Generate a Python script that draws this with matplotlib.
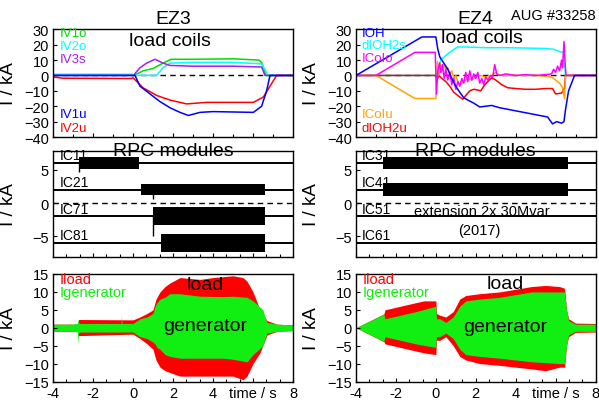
import matplotlib
matplotlib.use("Agg")
import matplotlib.pyplot as plt
from matplotlib.ticker import MultipleLocator

plt.rcParams['font.family'] = ['Liberation Sans', 'DejaVu Sans']

# ---- EZ3 load coils (t / s, I / kA) ----
iv1o_t = [-4, -0.05, 0.1, 0.5, 1.0, 1.5, 1.9, 3.0, 5.0, 6.3, 6.45, 6.65, 8]
iv1o_v = [0.3, 0.3, 0.3, 3, 4.5, 8, 10.5, 10.5, 10.8, 10, 8, 0, 0]
iv2o_t = [-4, -0.05, 0.0, 1.18, 1.5, 1.85, 3.0, 5.0, 6.43, 6.77, 8]
iv2o_v = [0.8, 0.8, 0.1, 0.1, 5, 8, 8.5, 8.5, 7.5, 0, 0]
iv3s_t = [-4, 0.02, 0.35, 0.68, 1.1, 1.5, 1.85, 3.0, 5.0, 6.43, 6.6, 8]
iv3s_v = [0, 0, 5, 8, 10.5, 8, 6.5, 6, 6, 5.5, 0, 0]
iv1u_t = [-4, 0.1, 0.35, 0.85, 1.35, 1.85, 2.35, 2.77, 3.35, 4.0, 6.02, 6.43, 6.68, 6.85, 8]
iv1u_v = [0, 0, -7, -12, -17, -21, -24, -26, -24, -23.5, -24, -20, -10, 0, 0]
iv2u_t = [-4, -3.5, -0.1, 0.0, 0.5, 1.18, 1.85, 2.68, 3.68, 6.02, 6.52, 6.85, 7.18, 8]
iv2u_v = [-1, -1.8, -2.0, -1.5, -8, -13, -16, -18.5, -17.5, -17.5, -14, -7, 0, 0]

# ---- EZ4 load coils ----
ioh_t = [-4, -0.7, 0.0, 0.1, 0.2, 0.4, 0.6, 0.8, 1.0, 1.2, 1.4, 1.6, 1.9, 2.2, 2.5, 2.8,
         3.2, 4.0, 5.0, 5.6, 5.85, 6.05, 6.3, 6.42, 6.5, 6.65, 6.95, 8]
ioh_v = [0, 25, 25, 17, 12, 8, 4, -2, -7, -11, -14.5, -16, -18, -20.5, -20, -19.5,
         -21, -23, -25.5, -27, -31.5, -30, -31, -30, -22, -10, 0, 0]
dioh2s_t = [-4, 0.0, 0.1, 0.25, 0.5, 0.8, 1.1, 1.5, 2.5, 3.5, 4.5, 5.5, 5.9, 6.2, 6.4, 6.5, 8]
dioh2s_v = [0, 0, 3, 10, 13, 16, 18.5, 18.5, 18, 18, 17.8, 17.5, 17, 15.5, 15, 0, 0]
icoio_t = [-4, -3, -1.05, -0.03, 0.03, 0.1, 0.18, 0.25, 0.33, 0.42, 0.5, 0.6, 0.7, 0.8, 0.9,
           1.0, 1.1, 1.2, 1.3, 1.4, 1.5, 1.6, 1.7, 1.8, 1.9, 2.0, 2.1, 2.2, 2.3, 2.4, 2.5,
           2.6, 2.75, 2.85, 2.95, 3.05, 3.2, 3.5, 4.0, 4.5, 5.0, 5.5, 5.8, 5.9, 6.0, 6.1,
           6.2, 6.3, 6.35, 6.42, 6.47, 6.52, 8]
icoio_v = [0, 0, 15, 15, -12, 3, 8, 2, 7, -2, 4, -3, 2, -6, -2,
           -9, -4, -7, -2, -5, 2, -4, 3, -3, 1, -2, 2, -5, -2, -6, -1,
           -3, 0, -1, 7, 1, 0, 1, 0, 0.5, 0, 0.5, 1, 4, 2, 6,
           3, 10, 5, 22, 10, 0, 0]
icoiu_t = [-4, -3, -1.05, 0.0, 0.08, 0.15, 0.22, 0.3, 0.4, 0.5, 0.6, 0.7, 0.8, 0.9, 1.0,
           1.1, 1.2, 1.4, 1.6, 1.8, 2.0, 2.2, 2.5, 2.8, 3.0, 3.2, 4.0, 5.0, 5.8, 6.0,
           6.2, 6.35, 6.45, 6.5, 8]
icoiu_v = [0, 0, -15, -15, 9, 0, 8, 3, 7, 4, 5, 1, 3, -2, 0,
           -4, -6, -4, -2, -3, -1, 0, -1, 0, 2, 0, 0, 0, -1, -3,
           -5, -8, -15, 0, 0]
dioh2u_t = [-4, 0.0, 0.05, 0.15, 0.3, 0.5, 0.7, 0.9, 1.1, 1.35, 1.5, 1.7, 1.9, 2.1, 2.25,
            2.4, 2.6, 2.8, 3.0, 3.3, 3.6, 4.0, 4.5, 5.0, 5.5, 5.85, 6.0, 6.3, 6.45, 6.5, 8]
dioh2u_v = [0, 0, -3, 0, -2, -4, -7, -11, -13, -15.5, -13, -10, -9, -9.5, -10,
            -7, -4, -1.5, -3, -6, -8, -8.5, -9, -9, -8.5, -8.5, -12, -11.5, -8, 0, 0]

# ---- RPC modules: name, baseline, start, end, half amplitude ----
rpc3_names = ['IC11', 'IC21', 'IC71', 'IC81']
rpc3_base = [6, 2, -2, -6]
rpc3_start = [-2.68, 0.38, 1.02, 1.38]
rpc3_end = [0.32, 6.6, 6.6, 6.6]
rpc3_amp = [0.9, 0.85, 1.35, 1.4]
rpc3_spike_t = [-2.68, 1.0, 1.0]
rpc3_spike_lo = [4.6, 0.6, -5.0]
rpc3_spike_hi = [6.0, 2.0, -2.0]

rpc4_names = ['IC31', 'IC41', 'IC51', 'IC61']
rpc4_base = [6, 2, -2, -6]
rpc4_start = [-2.63, -2.63, None, None]
rpc4_end = [6.62, 6.62, None, None]
rpc4_amp = [0.95, 1.0, 0, 0]

# ---- generator / load current envelopes ----
gen3_t = [-4, -3.0, -2.78, -2.75, -2.72, -2.65, -0.6, -0.58, -0.55, 0.0, 0.35, 0.7, 1.0, 1.1,
          1.2, 1.35, 1.6, 1.85, 2.35, 3.35, 4.5, 5.0, 5.7, 6.0, 6.3, 6.5, 6.6, 6.7, 7.2, 8.0]
gen3_hi = [1.0, 1.0, 1.2, 2.5, 1.5, 1.2, 1.2, 3.3, 1.2, 1.2, 2.5, 3.0, 4.0, 6.0,
           7.0, 8.0, 8.5, 9.5, 9.5, 8.8, 8.7, 8.8, 8.5, 7.5, 6.0, 5.0, 3.0, 1.5, 1.0, 0.8]
gen3_lo = [-1.0, -1.0, -1.2, -4.5, -1.5, -1.2, -1.2, -1.2, -1.2, -1.2, -2.5, -3.0, -4.0, -4.5,
           -5.5, -6.0, -7.5, -8.0, -8.5, -8.5, -8.5, -8.8, -9.5, -7.5, -6.0, -5.0, -3.0, -1.5, -1.0, -0.8]
load3_t = [-4, -2.75, -2.72, -0.1, 0.0, 0.35, 0.7, 1.0, 1.15, 1.35, 1.6, 1.85, 2.35, 3.35,
           4.0, 5.0, 5.5, 5.7, 6.0, 6.35, 6.7, 7.2, 8.0]
load3_hi = [1.0, 1.0, 2.3, 2.2, 2.2, 3.0, 4.0, 5.0, 8.0, 10.0, 11.5, 12.5, 14.0, 13.5,
            14.0, 14.5, 14.0, 13.0, 10.0, 5.0, 2.0, 1.0, 0.8]
load3_lo = [-1.0, -1.0, -2.2, -1.8, -1.8, -3.0, -4.5, -6.0, -9.0, -11.0, -12.0, -12.5, -13.5, -13.5,
            -13.5, -13.5, -14.5, -13.5, -10.0, -7.0, -2.0, -1.0, -0.8]

gen4_t = [-4, -2.6, -2.55, -1.0, 0.0, 0.03, 0.2, 0.5, 0.87, 1.2, 1.5, 2.2, 3.2, 4.8, 6.2,
          6.45, 6.55, 6.65, 7.0, 8.0]
gen4_hi = [0, 3.8, 2.5, 4.5, 6.0, 2.5, 2.5, 1.5, 3.0, 6.0, 7.5, 8.0, 8.5, 10.0, 10.0,
           10.0, 5.0, 2.0, 1.0, 1.0]
gen4_lo = [0, -3.8, -2.5, -4.5, -5.5, -2.5, -2.5, -1.5, -3.0, -6.0, -7.5, -8.0, -8.5, -9.5, -10.0,
           -10.0, -5.0, -2.0, -1.0, -1.0]
load4_t = [-4, -2.6, -2.55, -1.0, -0.6, 0.0, 0.03, 0.2, 0.5, 0.87, 1.2, 1.5, 2.2, 3.2, 4.8,
           5.5, 6.2, 6.45, 6.55, 6.65, 7.0, 8.0]
load4_hi = [0, 3.9, 5.0, 7.0, 7.5, 7.5, 4.0, 3.5, 3.0, 4.5, 8.0, 9.0, 9.5, 10.0, 11.5,
            11.8, 11.5, 11.0, 5.0, 2.5, 1.3, 1.2]
load4_lo = [0, -3.9, -4.5, -6.5, -7.0, -7.5, -3.5, -3.5, -2.5, -5.0, -8.0, -9.0, -10.0, -10.5, -11.5,
            -12.0, -11.0, -11.0, -5.0, -2.5, -1.3, -1.2]

GREEN = '#00dd00'
LIME = '#11ee11'
CYAN = '#00ffff'
PURPLE = '#a020f0'
ORANGE = '#ffa500'
MAGENTA = '#ff00ff'
W, H = 599, 410

fig = plt.figure(figsize=(W / 100, H / 100), dpi=100)


def make_ax(x0, x1, y0, y1):
    return fig.add_axes([x0 / W, 1 - y1 / H, (x1 - x0) / W, (y1 - y0) / H])


def style(ax, ylim, yticks, minor_x, show_x):
    ax.set_xlim(-4, 8)
    ax.set_ylim(*ylim)
    ax.set_yticks(yticks)
    ax.set_xticks([-4, -2, 0, 2, 4, 6, 8])
    ax.xaxis.set_minor_locator(MultipleLocator(minor_x))
    ax.tick_params(direction='in', length=3, width=0.8, labelsize=10.5, pad=3)
    ax.tick_params(which='minor', direction='in', length=2, width=0.8)
    if show_x:
        ax.set_xticklabels(['-4', '-2', '0', '2', '4', 'time / s', '8'])
    else:
        ax.set_xticklabels([])
    for s in ax.spines.values():
        s.set_linewidth(1.0)


cols = [(53, 293), (356, 595.5)]
ylab_x = [17.5, 320]

axes = {}
for c, (x0, x1) in enumerate(cols):
    axes[(0, c)] = make_ax(x0, x1, 29.5, 138)
    axes[(1, c)] = make_ax(x0, x1, 152, 258)
    axes[(2, c)] = make_ax(x0, x1, 275, 382.5)
    style(axes[(0, c)], (-40, 30.5), range(-40, 31, 10), 1, False)
    style(axes[(1, c)], (-8.1, 7.8), [-5, 0, 5], 2 / 3, False)
    style(axes[(2, c)], (-15, 15), range(-15, 16, 5), 2 / 3, True)
    for r in range(3):
        ax = axes[(r, c)]
        ax.set_ylabel('I / kA', fontsize=13.5)
        ax.yaxis.set_label_coords(-(x0 - ylab_x[c]) / (x1 - x0), 0.5)

# ---- top row ----
ax = axes[(0, 0)]
ax.axhline(0, color='black', lw=1, dashes=(4, 3))
ax.plot(iv1o_t, iv1o_v, color=GREEN, lw=1.1)
ax.plot(iv2o_t, iv2o_v, color=CYAN, lw=1.1)
ax.plot(iv3s_t, iv3s_v, color=PURPLE, lw=1.1)
ax.plot(iv2u_t, iv2u_v, color='red', lw=1.1)
ax.plot(iv1u_t, iv1u_v, color='blue', lw=1.1)
ax.set_title('EZ3', fontsize=14, pad=4)
for txt, y, col in [('IV1o', 0.958, GREEN), ('IV2o', 0.84, CYAN), ('IV3s', 0.722, PURPLE),
                    ('IV1u', 0.212, 'blue'), ('IV2u', 0.085, 'red')]:
    ax.text(0.029, y, txt, color=col, fontsize=9.5, va='center', transform=ax.transAxes)
ax.text(0.4875, 0.888, 'load coils', fontsize=14, ha='center', va='center', transform=ax.transAxes)

ax = axes[(0, 1)]
ax.axhline(0, color='black', lw=1, dashes=(4, 3))
ax.plot(dioh2s_t, dioh2s_v, color=CYAN, lw=1.1)
ax.plot(dioh2u_t, dioh2u_v, color='red', lw=1.1)
ax.plot(icoiu_t, icoiu_v, color=ORANGE, lw=1.1)
ax.plot(icoio_t, icoio_v, color=MAGENTA, lw=1.1)
ax.plot(ioh_t, ioh_v, color='blue', lw=1.1)
ax.set_title('EZ4', fontsize=14, pad=4)
fig.text(553 / W, 1 - 16 / H, 'AUG #33258', fontsize=10.5, ha='center', va='center')
for txt, y, col in [('IOH', 0.963, 'blue'), ('dIOH2s', 0.845, CYAN), ('ICoIo', 0.727, MAGENTA),
                    ('ICoIu', 0.212, ORANGE), ('dIOH2u', 0.085, 'red')]:
    ax.text(0.025, y, txt, color=col, fontsize=9.5, va='center', transform=ax.transAxes)
ax.text(0.526, 0.919, 'load coils', fontsize=14, ha='center', va='center', transform=ax.transAxes)

# ---- middle row ----
ax = axes[(1, 0)]
ax.axhline(0, color='black', lw=1, dashes=(4, 3))
for name, b, t0, t1, a in zip(rpc3_names, rpc3_base, rpc3_start, rpc3_end, rpc3_amp):
    ax.axhline(b, color='black', lw=1.4, zorder=2)
    ax.fill_between([t0, t1], [b - a, b - a], [b + a, b + a], color='black', lw=0, zorder=3)
    ax.text(-3.65, b + 0.1, name, fontsize=10, va='bottom', zorder=1)
ax.vlines(rpc3_spike_t, rpc3_spike_lo, rpc3_spike_hi, color='black', lw=1, zorder=3)
ax.text(0.5, 1.0, 'RPC modules', fontsize=14, ha='center', va='center', transform=ax.transAxes)

ax = axes[(1, 1)]
ax.axhline(0, color='black', lw=1, dashes=(4, 3))
for name, b, t0, t1, a in zip(rpc4_names, rpc4_base, rpc4_start, rpc4_end, rpc4_amp):
    ax.axhline(b, color='black', lw=1.4, zorder=2)
    if t0 is not None:
        ax.fill_between([t0, t1], [b - a, b - a], [b + a, b + a], color='black', lw=0, zorder=3)
    ax.text(-3.7, b + 0.1, name, fontsize=10, va='bottom', zorder=1)
ax.text(0.5, 1.0, 'RPC modules', fontsize=14, ha='center', va='center', transform=ax.transAxes)
ax.text(2.28, -1.25, 'extension 2x 30Mvar', fontsize=10.5, ha='center', va='center')
ax.text(2.2, -4.0, '(2017)', fontsize=10.5, ha='center', va='center')

# ---- bottom row ----
for c, (lt, lh, ll, gt, gh, gl) in enumerate([
        (load3_t, load3_hi, load3_lo, gen3_t, gen3_hi, gen3_lo),
        (load4_t, load4_hi, load4_lo, gen4_t, gen4_hi, gen4_lo)]):
    ax = axes[(2, c)]
    ax.fill_between(lt, ll, lh, color='red', lw=0)
    ax.fill_between(gt, gl, gh, color=LIME, lw=0)
    ax.text(0.029, 0.953, 'Iload', color='red', fontsize=10.5, va='center', transform=ax.transAxes)
    ax.text(0.029, 0.83, 'Igenerator', color=LIME, fontsize=10.5, va='center', transform=ax.transAxes)

axes[(2, 0)].text(0.633, 0.90, 'load', fontsize=14, ha='center', va='center',
                  transform=axes[(2, 0)].transAxes)
axes[(2, 0)].text(0.633, 0.519, 'generator', fontsize=14, ha='center', va='center',
                  transform=axes[(2, 0)].transAxes)
axes[(2, 1)].text(0.622, 0.907, 'load', fontsize=14, ha='center', va='center',
                  transform=axes[(2, 1)].transAxes)
axes[(2, 1)].text(0.622, 0.516, 'generator', fontsize=14, ha='center', va='center',
                  transform=axes[(2, 1)].transAxes)

fig.savefig('out.png', dpi=100)
